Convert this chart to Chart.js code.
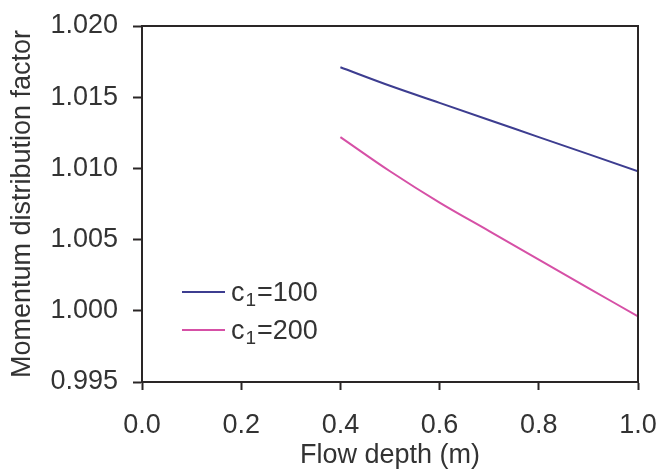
<!DOCTYPE html>
<html>
<head>
<meta charset="utf-8">
<script src="https://cdn.jsdelivr.net/npm/chart.js@4"></script>
<style>
  html, body { margin: 0; padding: 0; background: #fff; }
  #wrap { width: 657px; height: 473px; position: relative; }
</style>
</head>
<body>
<div id="wrap"><canvas id="chart"></canvas></div>
<script>
// data
const depths = [0.4, 0.5, 0.6, 0.7, 0.8, 0.9, 1.0];
const c100 = [1.0171, 1.0158, 1.0146, 1.0134, 1.0122, 1.0110, 1.0098];
const c200 = [1.0122, 1.0098, 1.0076, 1.0056, 1.0036, 1.0016, 0.9996];
const seriesLabels = ['c\u2081=100', 'c\u2081=200'];
const xTicks = [0.0, 0.2, 0.4, 0.6, 0.8, 1.0];
const yTicks = [0.995, 1.000, 1.005, 1.010, 1.015, 1.020];

const FONT = '"Liberation Sans", Arial, sans-serif';
const FS = 27;
const TEXT = '#333333';
const AXIS = '#2a2626';

function pts(ys) {
    return depths.map((d, i) => ({ x: d, y: ys[i] }));
}

// box around the plot + legend inside the plot
const frame = {
    id: 'frame',
    afterDraw(chart) {
        const ctx = chart.ctx;
        const a = chart.chartArea;
        ctx.save();
        ctx.strokeStyle = AXIS;
        ctx.lineWidth = 2;
        ctx.beginPath();
        ctx.moveTo(a.left, a.top);
        ctx.lineTo(a.right, a.top);
        ctx.lineTo(a.right, a.bottom);
        ctx.stroke();

        // legend
        const x0 = 182, x1 = 225, tx = 231;
        const rows = [292, 330];
        chart.data.datasets.forEach((ds, i) => {
            const y = rows[i];
            ctx.strokeStyle = ds.borderColor;
            ctx.lineWidth = 2;
            ctx.beginPath();
            ctx.moveTo(x0, y);
            ctx.lineTo(x1, y);
            ctx.stroke();

            const parts = ds.label.split('\u2081');
            ctx.fillStyle = TEXT;
            ctx.textBaseline = 'alphabetic';
            ctx.textAlign = 'left';
            const base = y + 9;
            let x = tx;
            ctx.font = FS + 'px ' + FONT;
            ctx.fillText(parts[0], x, base);
            x += ctx.measureText(parts[0]).width + 1;
            ctx.font = '19px ' + FONT;
            ctx.fillText('1', x, base + 5);
            x += ctx.measureText('1').width + 1;
            ctx.font = FS + 'px ' + FONT;
            ctx.fillText(parts[1], x, base);
        });
        ctx.restore();
    }
};

const chart = new Chart(document.getElementById('chart'), {
    type: 'line',
    data: {
        datasets: [{
            label: seriesLabels[0],
            data: pts(c100),
            borderColor: '#3d3d90',
            borderWidth: 2,
            pointRadius: 0,
            cubicInterpolationMode: 'monotone',
            fill: false
        }, {
            label: seriesLabels[1],
            data: pts(c200),
            borderColor: '#d650a6',
            borderWidth: 2,
            pointRadius: 0,
            cubicInterpolationMode: 'monotone',
            fill: false
        }]
    },
    options: {
        responsive: true,
        maintainAspectRatio: false,
        animation: false,
        layout: { padding: { left: 0, right: 19, top: 26, bottom: 0 } },
        plugins: {
            legend: { display: false },
            tooltip: { enabled: false }
        },
        scales: {
            x: {
                type: 'linear',
                min: 0,
                max: 1,
                afterBuildTicks(scale) {
                    scale.ticks = xTicks.map(v => ({ value: v }));
                },
                afterFit(scale) {
                    scale.height = 91;
                    scale.paddingLeft = 0;
                    scale.paddingRight = 0;
                },
                grid: {
                    drawOnChartArea: false,
                    drawTicks: true,
                    tickLength: 8,
                    tickWidth: 2,
                    color: AXIS
                },
                border: { color: AXIS, width: 2 },
                ticks: {
                    maxRotation: 0,
                    autoSkip: false,
                    padding: 19,
                    color: TEXT,
                    font: { family: FONT, size: FS },
                    callback: v => Number(v).toFixed(1)
                },
                title: {
                    display: true,
                    text: 'Flow depth (m)',
                    color: TEXT,
                    font: { family: FONT, size: FS },
                    padding: { top: 0, bottom: 1 }
                }
            },
            y: {
                min: 0.995,
                max: 1.020,
                afterBuildTicks(scale) {
                    scale.ticks = yTicks.map(v => ({ value: v }));
                },
                afterFit(scale) {
                    scale.width = 142;
                    scale.paddingTop = 0;
                    scale.paddingBottom = 0;
                },
                grid: {
                    drawOnChartArea: false,
                    drawTicks: true,
                    tickLength: 9,
                    tickWidth: 2,
                    color: AXIS
                },
                border: { color: AXIS, width: 2 },
                ticks: {
                    padding: 15,
                    color: TEXT,
                    font: { family: FONT, size: FS },
                    callback: v => Number(v).toFixed(3)
                },
                title: {
                    display: true,
                    text: 'Momentum distribution factor',
                    color: TEXT,
                    font: { family: FONT, size: FS },
                    padding: { top: 6, bottom: 0 }
                }
            }
        }
    },
    plugins: [frame]
});
</script>
</body>
</html>
